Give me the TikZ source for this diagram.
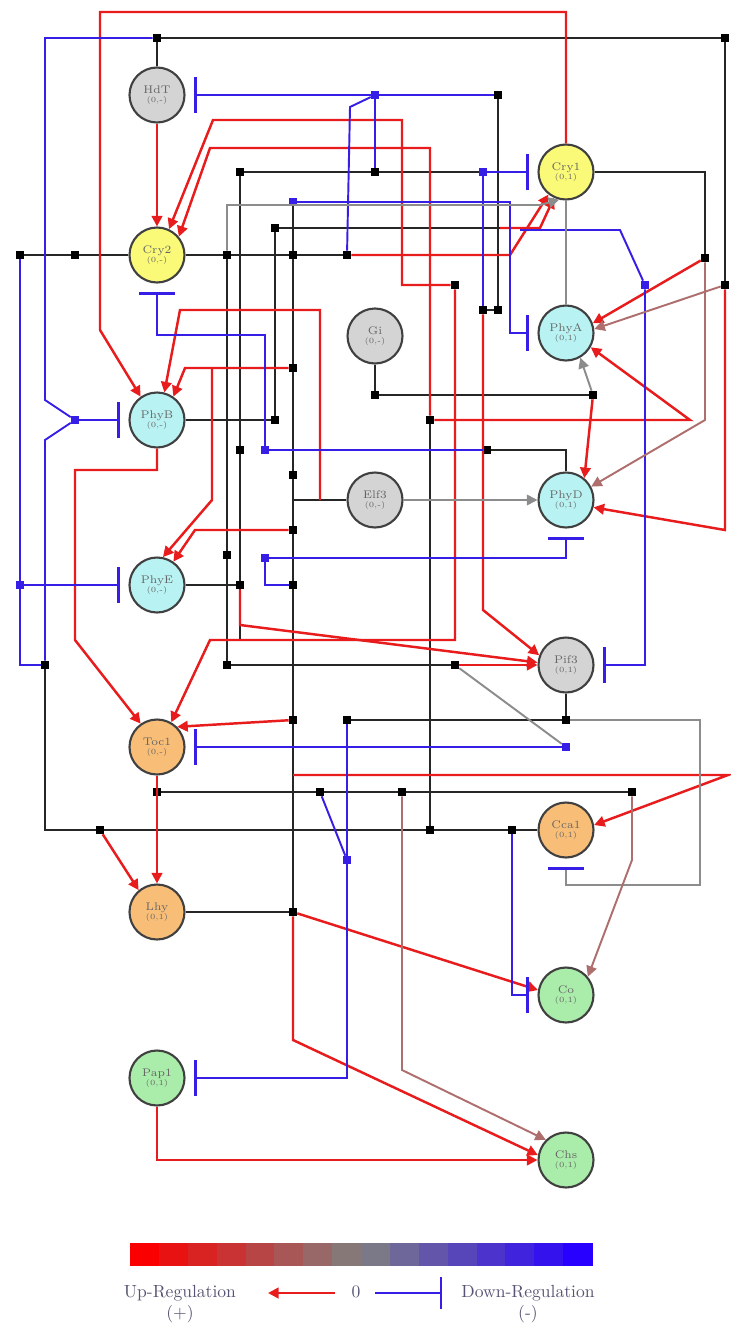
\documentclass[tikz,border=0pt]{standalone}
\usetikzlibrary{arrows.meta}
\definecolor{redc}{RGB}{232,28,28}
\definecolor{bluec}{RGB}{55,30,230}
\definecolor{grayc}{RGB}{140,140,140}
\definecolor{brownc}{RGB}{175,110,110}
\definecolor{ylw}{RGB}{250,250,120}
\definecolor{cyn}{RGB}{185,242,242}
\definecolor{gry}{RGB}{212,212,212}
\definecolor{org}{RGB}{248,190,120}
\definecolor{grn}{RGB}{170,236,170}
\definecolor{rbar}{RGB}{250,0,0}
\definecolor{gbar}{RGB}{128,128,128}
\definecolor{bbar}{RGB}{40,0,255}
\definecolor{legt}{RGB}{85,85,115}
\tikzset{
 gn/.style={circle, draw=black!75, line width=1.2pt, minimum size=1.1cm, inner sep=0pt, align=center, font=\fontsize{6.3}{7}\selectfont, text=black!60},
 jn/.style={rectangle, fill=black, minimum size=4.5pt, inner sep=0pt},
 jbl/.style={jn, fill=bluec},
 blk/.style={draw=black!85, line width=1.1pt},
 act/.style={draw=redc, line width=1.4pt, -{Triangle[length=6pt,width=6pt]}},
 actl/.style={draw=redc, line width=1.4pt},
 inh/.style={draw=bluec, line width=1.1pt, -{Bar[width=20pt,line width=1.4pt]}, shorten >=5pt},
 inhl/.style={draw=bluec, line width=1.1pt},
 gryl/.style={draw=grayc, line width=1.1pt},
 gryarr/.style={gryl, -{Triangle[length=6pt,width=6pt]}},
 brnarr/.style={draw=brownc, line width=1.1pt, -{Triangle[length=6pt,width=6pt]}},
 legtext/.style={font=\fontsize{10}{12}\selectfont, text=legt, align=center}
}
\newcommand{\glab}[2]{#1\\[-2pt]{\fontsize{4.5}{4.5}\selectfont #2}}
\begin{document}
\begin{tikzpicture}[x=0.02cm,y=-0.02cm]
\fill[white] (0,0) rectangle (730,1328);
\useasboundingbox (0,0) rectangle (730,1328);
% genes
\node[gn, fill=gry] (hdt) at (157,95) {\glab{HdT}{(0,-)}};
\node[gn, fill=ylw] (cry2) at (157,255) {\glab{Cry2}{(0,-)}};
\node[gn, fill=ylw] (cry1) at (566,172) {\glab{Cry1}{(0,1)}};
\node[gn, fill=gry] (gi) at (375,336) {\glab{Gi}{(0,-)}};
\node[gn, fill=cyn] (phya) at (566,333) {\glab{PhyA}{(0,1)}};
\node[gn, fill=cyn] (phyb) at (157,420) {\glab{PhyB}{(0,-)}};
\node[gn, fill=gry] (elf3) at (375,500) {\glab{Elf3}{(0,-)}};
\node[gn, fill=cyn] (phyd) at (566,500) {\glab{PhyD}{(0,1)}};
\node[gn, fill=cyn] (phye) at (157,585) {\glab{PhyE}{(0,-)}};
\node[gn, fill=gry] (pif3) at (566,665) {\glab{Pif3}{(0,1)}};
\node[gn, fill=org] (toc1) at (157,747) {\glab{Toc1}{(0,-)}};
\node[gn, fill=org] (cca1) at (566,830) {\glab{Cca1}{(0,1)}};
\node[gn, fill=org] (lhy) at (157,912) {\glab{Lhy}{(0,1)}};
\node[gn, fill=grn] (co) at (566,995) {\glab{Co}{(0,1)}};
\node[gn, fill=grn] (pap1) at (157,1078) {\glab{Pap1}{(0,1)}};
\node[gn, fill=grn] (chs) at (566,1160) {\glab{Chs}{(0,1)}};
% junctions
\node[jn] (jA) at (157,38) {};
\node[jn] (jB) at (725,38) {};
\node[jn] (jz) at (725,285) {};
\node[jn] (jC) at (705,258) {};
\node[jn] (jD) at (75,255) {};
\node[jn] (jE) at (20,255) {};
\node[jn] (jF) at (227,255) {};
\node[jn] (jG) at (293,255) {};
\node[jn] (jH) at (347,255) {};
\node[jbl] (jI) at (375,95) {};
\node[jn] (jJ) at (498,95) {};
\node[jn] (jK) at (240,172) {};
\node[jn] (jL) at (375,172) {};
\node[jbl] (jM) at (483,172) {};
\node[jbl] (jN) at (293,202) {};
\node[jn] (jO) at (275,228) {};
\node[jn] (jP) at (455,285) {};
\node[jbl] (jQ) at (645,285) {};
\node[jn] (jR) at (498,310) {};
\node[jn] (jS) at (483,310) {};
\node[jn] (jT) at (293,368) {};
\node[jn] (jU) at (375,395) {};
\node[jn] (jV) at (593,395) {};
\node[jn] (jW) at (275,420) {};
\node[jn] (jX) at (430,420) {};
\node[jbl] (jY) at (265,450) {};
\node[jn] (jZ) at (240,450) {};
\node[jn] (ja) at (487,450) {};
\node[jn] (jb) at (293,475) {};
\node[jn] (jc) at (293,530) {};
\node[jn] (jd) at (227,555) {};
\node[jbl] (je) at (265,558) {};
\node[jn] (jf) at (240,585) {};
\node[jn] (jg) at (293,585) {};
\node[jbl] (jh) at (20,585) {};
\node[jn] (ji) at (227,665) {};
\node[jn] (jj) at (455,665) {};
\node[jn] (jk) at (45,665) {};
\node[jn] (jl) at (293,720) {};
\node[jn] (jm) at (347,720) {};
\node[jn] (jn) at (566,720) {};
\node[jbl] (jo) at (566,747) {};
\node[jn] (jp) at (157,792) {};
\node[jn] (jq) at (320,792) {};
\node[jn] (jr) at (402,792) {};
\node[jn] (js) at (632,792) {};
\node[jn] (jt) at (100,830) {};
\node[jn] (ju) at (430,830) {};
\node[jn] (jv) at (512,830) {};
\node[jbl] (jw) at (347,860) {};
\node[jn] (jx) at (293,912) {};
\node[jbl] (jy) at (75,420) {};
% black lines
\draw[blk] (hdt) -- (jA) -- (jB) -- (jz);
\draw[blk] (cry1) -- (705,172) -- (jC);
\draw[blk] (cry2) -- (jD) -- (jE);
\draw[blk] (cry2) -- (jF) -- (jG) -- (jH);
\draw[blk] (jJ) -- (jR) -- (jS);
\draw[blk] (jK) -- (jL) -- (jM);
\draw[blk] (jK) -- (jZ) -- (jf) -- (240,640);
\draw[blk] (jF) -- (jd) -- (ji) -- (jj);
\draw[blk] (jO) -- (500,228);
\draw[blk] (jO) -- (jW);
\draw[blk] (phyb) -- (jW);
\draw[blk] (jN) -- (jG) -- (jT) -- (jb) -- (jc) -- (jg) -- (jl) -- (jx);
\draw[blk] (gi) -- (jU) -- (jV);
\draw[blk] (phyd) -- (566,450) -- (ja);
\draw[blk] (phye) -- (jf);
\draw[blk] (pif3) -- (jn);
\draw[blk] (jm) -- (jn);
\draw[blk] (toc1) -- (jp);
\draw[blk] (jp) -- (jq) -- (jr) -- (js);
\draw[blk] (jk) -- (45,830) -- (jt) -- (ju) -- (jv) -- (cca1);
\draw[blk] (lhy) -- (jx);
\draw[blk] (elf3) -- (293,500);
\draw[blk] (jX) -- (ju);
% red (activation)
\draw[act] (cry1) -- (566,12) -- (100,12) -- (100,330) -- (phyb.125);
\draw[act] (hdt) -- (cry2);
\draw[act] (jP) -- (402,285) -- (402,120) -- (213,120) -- (cry2.65);
\draw[act] (jX) -- (430,148) -- (210,148) -- (cry2.40);
\draw[act] (jH) -- (510,255) -- (cry1.232);
\draw[act] (500,228) -- (540,228) -- (cry1.245);
\draw[act] (jP) -- (455,640) -- (210,640) -- (toc1.60);
\draw[act] (jX) -- (690,420) -- (phya.330);
\draw[act] (jC) -- (phya.20);
\draw[act] (jz) -- (725,530) -- (phyd.345);
\draw[act] (jV) -- (phyd.50);
\draw[act] (jS) -- (483,610) -- (pif3.160);
\draw[act] (jj) -- (pif3);
\draw[act] (jf) -- (240,625) -- (pif3.175);
\draw[act] (phyb) -- (157,470) -- (75,470) -- (75,640) -- (toc1.125);
\draw[act] (toc1) -- (lhy);
\draw[act] (jt) -- (lhy.130);
\draw[act] (jl) -- (toc1.45);
\draw[act] (293,775) -- (728,775) -- (cca1.10);
\draw[act] (jx) -- (co.170);
\draw[act] (jx) -- (293,1040) -- (chs.170);
\draw[act] (pap1) -- (157,1160) -- (chs);
\draw[act] (320,500) -- (320,310) -- (180,310) -- (phyb.75);
\draw[act] (jT) -- (185,368) -- (phyb.55);
\draw[act] (jc) -- (195,530) -- (phye.55);
\draw[act] (212,368) -- (212,500) -- (phye.78);
% blue (inhibition)
\draw[inhl] (jA) -- (45,38) -- (45,400) -- (jy);
\draw[inhl] (jk) -- (45,440) -- (jy);
\draw[inh] (jy) -- (phyb);
\draw[inhl] (jE) -- (jh) -- (20,665) -- (jk);
\draw[inh] (jh) -- (phye);
\draw[inh] (jJ) -- (jI) -- (hdt);
\draw[inhl] (jI) -- (350,107) -- (jH);
\draw[inhl] (jI) -- (jL);
\draw[inh] (jM) -- (cry1);
\draw[inhl] (jM) -- (jS);
\draw[inh] (jY) -- (265,335) -- (157,335) -- (cry2);
\draw[inhl] (jY) -- (ja);
\draw[inh] (jN) -- (510,202) -- (510,333) -- (phya);
\draw[inh] (520,230) -- (620,230) -- (jQ) -- (645,665) -- (pif3);
\draw[inh] (je) -- (566,558) -- (phyd);
\draw[inhl] (je) -- (265,585) -- (jg);
\draw[inh] (jo) -- (toc1);
\draw[inh] (jm) -- (jw) -- (347,1078) -- (pap1);
\draw[inhl] (jw) -- (jq);
\draw[inh] (jv) -- (512,995) -- (co);
\draw[gryl, -{Bar[width=20pt,line width=1.4pt,color=bluec]}, shorten >=5pt] (jn) -- (700,720) -- (700,885) -- (566,885) -- (cca1);
% gray / brown
\draw[gryarr] (jF) -- (227,205) -- (540,205) -- (cry1.256);
\draw[gryl] (cry1) -- (phya);
\draw[gryarr] (elf3) -- (phyd);
\draw[brnarr] (jz) -- (phya.8);
\draw[brnarr] (jC) -- (705,420) -- (phyd.28);
\draw[gryarr] (jV) -- (phya.300);
\draw[gryl] (jj) -- (jo);
\draw[brnarr] (js) -- (632,860) -- (co.40);
\draw[brnarr] (jr) -- (402,1070) -- (chs.135);
% legend colour bar
\foreach \i in {0,...,15}{
  \pgfmathtruncatemacro\pr{max(0,100-\i*200/15)}
  \pgfmathtruncatemacro\pb{max(0,\i*200/15-100)}
  \ifnum\pr>0
    \fill[rbar!\pr!gbar] ({130+\i*28.875},1243) rectangle ({130+(\i+1)*28.875+0.5},1266);
  \else
    \fill[bbar!\pb!gbar] ({130+\i*28.875},1243) rectangle ({130+(\i+1)*28.875+0.5},1266);
  \fi
}
\node[legtext] (up) at (180,1304) {Up-Regulation\\(+)};
\node[legtext] (down) at (528,1304) {Down-Regulation\\(-)};
\node[legtext] (zero) at (356,1292) {0};
\coordinate (la1) at (335,1293);
\coordinate (la2) at (268,1293);
\coordinate (lb1) at (375,1293);
\coordinate (lb2) at (442,1293);
\draw[act] (la1) -- (la2);
\draw[draw=bluec, line width=1.1pt, -{Bar[width=18pt,line width=1.4pt]}] (lb1) -- (lb2);
\end{tikzpicture}
\end{document}
